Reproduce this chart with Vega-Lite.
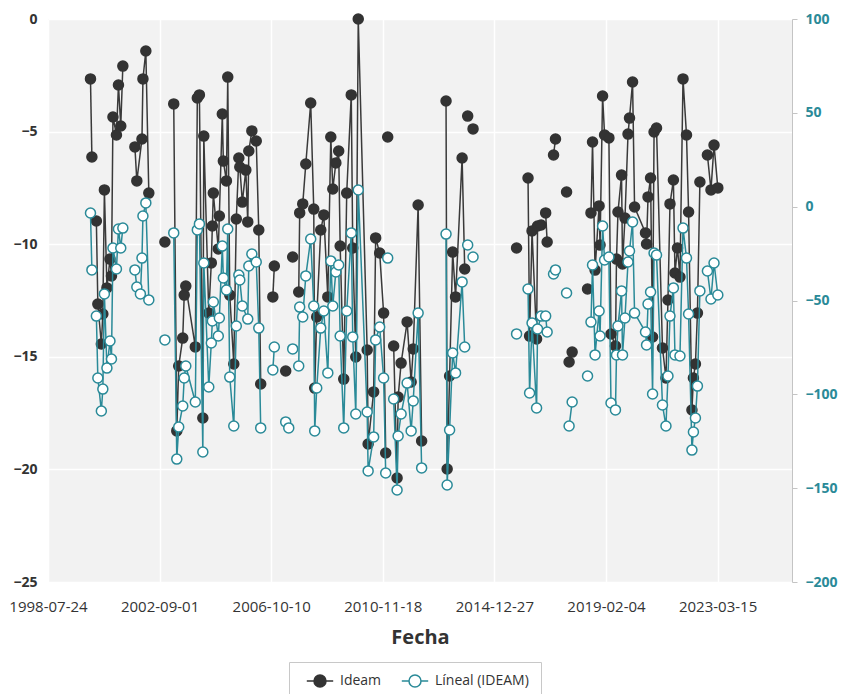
{
  "$schema": "https://vega.github.io/schema/vega-lite/v6.json",
  "width": 744,
  "height": 563,
  "autosize": {"type": "none"},
  "padding": {"left": 48, "top": 19, "right": 50, "bottom": 112},
  "background": "white",
  "config": {
    "font": "Open Sans",
    "view": {"fill": "#f2f2f2", "stroke": null},
    "axis": {"labelFont": "Open Sans", "titleFont": "Open Sans"},
    "legend": {
      "orient": "none", "legendX": 241, "legendY": 643, "direction": "horizontal", "title": null,
      "symbolType": "M-2.2,0L-1,0M1,0L2.2,0M-1,0A1,1,0,1,1,1,0A1,1,0,1,1,-1,0Z",
      "symbolSize": 144, "symbolStrokeWidth": 1.5, "symbolOffset": 12, "symbolOpacity": 1,
      "labelOffset": 13, "labelFontSize": 14, "labelColor": "#333333", "labelFont": "Open Sans",
      "columnPadding": 14, "padding": 12, "strokeColor": "#c8c8c8", "fillColor": "#ffffff"
    }
  },
  "data": {"values": [
    {"fecha": "2000-02-15", "ideam": -2.66, "lineal": -3.4, "tramo": 1},
    {"fecha": "2000-03-05", "ideam": -6.13, "lineal": -33.7, "tramo": 1},
    {"fecha": "2000-05-04", "ideam": -8.97, "lineal": -58.3, "tramo": 2},
    {"fecha": "2000-05-24", "ideam": -12.66, "lineal": -91.3, "tramo": 2},
    {"fecha": "2000-07-10", "ideam": -14.43, "lineal": -108.9, "tramo": 2},
    {"fecha": "2000-07-30", "ideam": -13.10, "lineal": -97.2, "tramo": 2},
    {"fecha": "2000-08-20", "ideam": -7.59, "lineal": -46.5, "tramo": 2},
    {"fecha": "2000-09-23", "ideam": -11.94, "lineal": -86.0, "tramo": 2},
    {"fecha": "2000-11-03", "ideam": -10.66, "lineal": -71.6, "tramo": 2},
    {"fecha": "2000-11-23", "ideam": -11.41, "lineal": -81.2, "tramo": 2},
    {"fecha": "2000-12-13", "ideam": -4.35, "lineal": -22.0, "tramo": 2},
    {"fecha": "2001-01-29", "ideam": -5.15, "lineal": -33.2, "tramo": 2},
    {"fecha": "2001-02-25", "ideam": -2.93, "lineal": -11.9, "tramo": 2},
    {"fecha": "2001-03-28", "ideam": -4.75, "lineal": -22.0, "tramo": 2},
    {"fecha": "2001-04-25", "ideam": -2.09, "lineal": -11.4, "tramo": 2},
    {"fecha": "2001-10-04", "ideam": -5.68, "lineal": -33.7, "tramo": 3},
    {"fecha": "2001-10-30", "ideam": -7.19, "lineal": -42.8, "tramo": 3},
    {"fecha": "2001-12-17", "ideam": null, "lineal": -46.5, "tramo": 3},
    {"fecha": "2002-01-07", "ideam": -5.33, "lineal": -27.4, "tramo": 3},
    {"fecha": "2002-01-20", "ideam": -2.66, "lineal": -5.0, "tramo": 3},
    {"fecha": "2002-02-28", "ideam": -1.42, "lineal": 2.0, "tramo": 3},
    {"fecha": "2002-04-09", "ideam": -7.73, "lineal": -49.7, "tramo": 3},
    {"fecha": "2002-11-11", "ideam": -9.90, "lineal": -71.0, "tramo": 4},
    {"fecha": "2003-03-10", "ideam": -3.77, "lineal": -14.0, "tramo": 5},
    {"fecha": "2003-04-20", "ideam": -18.29, "lineal": -134.5, "tramo": 5},
    {"fecha": "2003-05-16", "ideam": -15.41, "lineal": -117.4, "tramo": 5},
    {"fecha": "2003-07-09", "ideam": -14.17, "lineal": -106.2, "tramo": 5},
    {"fecha": "2003-07-29", "ideam": -12.26, "lineal": -91.3, "tramo": 5},
    {"fecha": "2003-08-19", "ideam": -11.86, "lineal": -84.9, "tramo": 5},
    {"fecha": "2003-12-25", "ideam": -14.56, "lineal": -104.1, "tramo": 5},
    {"fecha": "2004-01-21", "ideam": -3.51, "lineal": -12.4, "tramo": 5},
    {"fecha": "2004-02-18", "ideam": -3.37, "lineal": -9.2, "tramo": 5},
    {"fecha": "2004-04-04", "ideam": -17.72, "lineal": -130.7, "tramo": 5},
    {"fecha": "2004-04-17", "ideam": -5.20, "lineal": -30.0, "tramo": 5},
    {"fecha": "2004-06-23", "ideam": -13.06, "lineal": -96.1, "tramo": 5},
    {"fecha": "2004-07-27", "ideam": -10.83, "lineal": -72.6, "tramo": 5},
    {"fecha": "2004-08-10", "ideam": -9.19, "lineal": -60.9, "tramo": 5},
    {"fecha": "2004-08-23", "ideam": -7.73, "lineal": -50.8, "tramo": 5},
    {"fecha": "2004-10-29", "ideam": -10.21, "lineal": -68.9, "tramo": 5},
    {"fecha": "2004-11-12", "ideam": -8.75, "lineal": -59.3, "tramo": 5},
    {"fecha": "2004-12-22", "ideam": -4.22, "lineal": -21.0, "tramo": 5},
    {"fecha": "2005-01-05", "ideam": -6.31, "lineal": -38.0, "tramo": 5},
    {"fecha": "2005-02-15", "ideam": -7.19, "lineal": -44.4, "tramo": 5},
    {"fecha": "2005-03-05", "ideam": -2.58, "lineal": -11.9, "tramo": 5},
    {"fecha": "2005-04-01", "ideam": -12.26, "lineal": -90.8, "tramo": 5},
    {"fecha": "2005-05-25", "ideam": -15.32, "lineal": -116.9, "tramo": 5},
    {"fecha": "2005-06-28", "ideam": -8.88, "lineal": -63.6, "tramo": 5},
    {"fecha": "2005-08-01", "ideam": -6.17, "lineal": -36.4, "tramo": 5},
    {"fecha": "2005-08-14", "ideam": -6.57, "lineal": -39.1, "tramo": 5},
    {"fecha": "2005-09-17", "ideam": -8.13, "lineal": -52.9, "tramo": 5},
    {"fecha": "2005-11-03", "ideam": -6.71, "lineal": null, "tramo": 5},
    {"fecha": "2005-11-29", "ideam": -9.01, "lineal": -59.9, "tramo": 5},
    {"fecha": "2005-12-13", "ideam": -5.86, "lineal": -31.6, "tramo": 5},
    {"fecha": "2006-01-23", "ideam": -4.97, "lineal": -25.2, "tramo": 5},
    {"fecha": "2006-03-23", "ideam": -5.42, "lineal": -29.5, "tramo": 5},
    {"fecha": "2006-04-26", "ideam": -9.37, "lineal": -64.7, "tramo": 5},
    {"fecha": "2006-05-22", "ideam": -16.21, "lineal": -117.9, "tramo": 5},
    {"fecha": "2006-11-01", "ideam": -12.34, "lineal": -87.0, "tramo": 6},
    {"fecha": "2006-11-21", "ideam": -10.97, "lineal": -74.8, "tramo": 6},
    {"fecha": "2007-04-23", "ideam": -15.63, "lineal": -114.7, "tramo": 7},
    {"fecha": "2007-06-03", "ideam": null, "lineal": -117.9, "tramo": 7},
    {"fecha": "2007-07-26", "ideam": -10.57, "lineal": -75.8, "tramo": 8},
    {"fecha": "2007-10-15", "ideam": -12.12, "lineal": -84.9, "tramo": 9},
    {"fecha": "2007-10-28", "ideam": -8.61, "lineal": -53.5, "tramo": 9},
    {"fecha": "2007-12-08", "ideam": -8.21, "lineal": -58.8, "tramo": 9},
    {"fecha": "2008-01-18", "ideam": -6.44, "lineal": -36.9, "tramo": 9},
    {"fecha": "2008-03-24", "ideam": -3.73, "lineal": -17.2, "tramo": 9},
    {"fecha": "2008-05-04", "ideam": -8.44, "lineal": -52.9, "tramo": 9},
    {"fecha": "2008-05-17", "ideam": -16.39, "lineal": -119.5, "tramo": 9},
    {"fecha": "2008-06-13", "ideam": -13.23, "lineal": -96.6, "tramo": 9},
    {"fecha": "2008-08-06", "ideam": -9.37, "lineal": -64.7, "tramo": 9},
    {"fecha": "2008-09-16", "ideam": -8.70, "lineal": -55.6, "tramo": 9},
    {"fecha": "2008-11-09", "ideam": -12.34, "lineal": -88.6, "tramo": 9},
    {"fecha": "2008-12-19", "ideam": -5.24, "lineal": -28.9, "tramo": 9},
    {"fecha": "2009-01-15", "ideam": -7.55, "lineal": -52.9, "tramo": 9},
    {"fecha": "2009-02-25", "ideam": -6.39, "lineal": -34.8, "tramo": 9},
    {"fecha": "2009-04-04", "ideam": -5.86, "lineal": -31.1, "tramo": 9},
    {"fecha": "2009-04-24", "ideam": -10.08, "lineal": -68.9, "tramo": 9},
    {"fecha": "2009-06-11", "ideam": -15.99, "lineal": -117.9, "tramo": 9},
    {"fecha": "2009-07-21", "ideam": -7.73, "lineal": -55.6, "tramo": 9},
    {"fecha": "2009-09-20", "ideam": -3.37, "lineal": -14.0, "tramo": 9},
    {"fecha": "2009-10-10", "ideam": -10.17, "lineal": -69.4, "tramo": 9},
    {"fecha": "2009-11-20", "ideam": -15.01, "lineal": -110.5, "tramo": 9},
    {"fecha": "2009-12-23", "ideam": 0, "lineal": 8.9, "tramo": 9},
    {"fecha": "2010-04-22", "ideam": -14.70, "lineal": -109.4, "tramo": 9},
    {"fecha": "2010-05-05", "ideam": -18.87, "lineal": -140.8, "tramo": 9},
    {"fecha": "2010-07-18", "ideam": -16.56, "lineal": -122.7, "tramo": 9},
    {"fecha": "2010-08-14", "ideam": -9.72, "lineal": -71.0, "tramo": 9},
    {"fecha": "2010-10-07", "ideam": -10.39, "lineal": -64.1, "tramo": 9},
    {"fecha": "2010-11-29", "ideam": -13.06, "lineal": -91.3, "tramo": 9},
    {"fecha": "2010-12-27", "ideam": -19.27, "lineal": -141.9, "tramo": 9},
    {"fecha": "2011-01-23", "ideam": -5.24, "lineal": -27.4, "tramo": 10},
    {"fecha": "2011-04-13", "ideam": -14.52, "lineal": -102.5, "tramo": 11},
    {"fecha": "2011-05-29", "ideam": -20.38, "lineal": -151.0, "tramo": 11},
    {"fecha": "2011-06-12", "ideam": -16.79, "lineal": -122.2, "tramo": 11},
    {"fecha": "2011-07-22", "ideam": -15.28, "lineal": -110.5, "tramo": 11},
    {"fecha": "2011-10-11", "ideam": -13.45, "lineal": -94.0, "tramo": 11},
    {"fecha": "2011-12-04", "ideam": -16.12, "lineal": -119.5, "tramo": 11},
    {"fecha": "2012-01-01", "ideam": -14.65, "lineal": -103.5, "tramo": 11},
    {"fecha": "2012-03-07", "ideam": -8.26, "lineal": -56.7, "tramo": 11},
    {"fecha": "2012-04-23", "ideam": -18.74, "lineal": -139.2, "tramo": 11},
    {"fecha": "2013-03-17", "ideam": -3.64, "lineal": -14.6, "tramo": 12},
    {"fecha": "2013-04-01", "ideam": -19.98, "lineal": -148.3, "tramo": 12},
    {"fecha": "2013-05-04", "ideam": -15.85, "lineal": -119.0, "tramo": 12},
    {"fecha": "2013-06-14", "ideam": -10.35, "lineal": -78.0, "tramo": 12},
    {"fecha": "2013-07-23", "ideam": -12.34, "lineal": -88.6, "tramo": 12},
    {"fecha": "2013-10-19", "ideam": -6.17, "lineal": -40.1, "tramo": 12},
    {"fecha": "2013-11-23", "ideam": -11.10, "lineal": -74.8, "tramo": 12},
    {"fecha": "2014-01-02", "ideam": -4.31, "lineal": -20.4, "tramo": 13},
    {"fecha": "2014-03-15", "ideam": -4.88, "lineal": -26.8, "tramo": 14},
    {"fecha": "2015-10-21", "ideam": -10.17, "lineal": -67.8, "tramo": 15},
    {"fecha": "2016-03-23", "ideam": -7.06, "lineal": -43.9, "tramo": 16},
    {"fecha": "2016-04-13", "ideam": -14.08, "lineal": -99.3, "tramo": 16},
    {"fecha": "2016-05-16", "ideam": -9.41, "lineal": -62.0, "tramo": 16},
    {"fecha": "2016-07-16", "ideam": -14.21, "lineal": -107.3, "tramo": 16},
    {"fecha": "2016-07-29", "ideam": -9.19, "lineal": -65.2, "tramo": 16},
    {"fecha": "2016-09-15", "ideam": -9.15, "lineal": -58.3, "tramo": 16},
    {"fecha": "2016-11-15", "ideam": -8.61, "lineal": -58.3, "tramo": 17},
    {"fecha": "2016-12-05", "ideam": -9.90, "lineal": -66.8, "tramo": 17},
    {"fecha": "2017-03-01", "ideam": -6.04, "lineal": -35.9, "tramo": 18},
    {"fecha": "2017-03-27", "ideam": -5.33, "lineal": -33.7, "tramo": 18},
    {"fecha": "2017-08-23", "ideam": -7.68, "lineal": -46.0, "tramo": 19},
    {"fecha": "2017-09-26", "ideam": -15.23, "lineal": -116.9, "tramo": 20},
    {"fecha": "2017-11-06", "ideam": -14.79, "lineal": -104.1, "tramo": 20},
    {"fecha": "2018-06-01", "ideam": -11.99, "lineal": -90.2, "tramo": 21},
    {"fecha": "2018-07-17", "ideam": -8.61, "lineal": -61.5, "tramo": 22},
    {"fecha": "2018-08-07", "ideam": -5.46, "lineal": -31.1, "tramo": 22},
    {"fecha": "2018-09-10", "ideam": -11.15, "lineal": -79.0, "tramo": 22},
    {"fecha": "2018-11-03", "ideam": -8.30, "lineal": -55.6, "tramo": 22},
    {"fecha": "2018-11-16", "ideam": -10.04, "lineal": -68.9, "tramo": 22},
    {"fecha": "2018-12-20", "ideam": -3.42, "lineal": -10.3, "tramo": 22},
    {"fecha": "2019-01-16", "ideam": -5.15, "lineal": -28.4, "tramo": 22},
    {"fecha": "2019-03-15", "ideam": -5.28, "lineal": -26.8, "tramo": 22},
    {"fecha": "2019-04-12", "ideam": -13.99, "lineal": -104.6, "tramo": 22},
    {"fecha": "2019-06-11", "ideam": -14.52, "lineal": -108.3, "tramo": 22},
    {"fecha": "2019-06-25", "ideam": -10.66, "lineal": -79.0, "tramo": 22},
    {"fecha": "2019-07-15", "ideam": -8.57, "lineal": -63.6, "tramo": 22},
    {"fecha": "2019-09-01", "ideam": -6.93, "lineal": -44.9, "tramo": 22},
    {"fecha": "2019-09-14", "ideam": -10.88, "lineal": -79.0, "tramo": 22},
    {"fecha": "2019-10-17", "ideam": -8.84, "lineal": -59.3, "tramo": 22},
    {"fecha": "2019-11-27", "ideam": -5.11, "lineal": -29.5, "tramo": 22},
    {"fecha": "2019-12-17", "ideam": -4.40, "lineal": -23.6, "tramo": 22},
    {"fecha": "2020-01-27", "ideam": -2.80, "lineal": -8.2, "tramo": 22},
    {"fecha": "2020-02-23", "ideam": -8.35, "lineal": -56.7, "tramo": 22},
    {"fecha": "2020-07-19", "ideam": -9.50, "lineal": -66.8, "tramo": 22},
    {"fecha": "2020-08-02", "ideam": -9.99, "lineal": -73.7, "tramo": 22},
    {"fecha": "2020-08-22", "ideam": -7.90, "lineal": -51.9, "tramo": 22},
    {"fecha": "2020-09-25", "ideam": -7.06, "lineal": -45.5, "tramo": 22},
    {"fecha": "2020-10-22", "ideam": -14.12, "lineal": -99.8, "tramo": 22},
    {"fecha": "2020-11-11", "ideam": -5.02, "lineal": -24.7, "tramo": 22},
    {"fecha": "2020-12-14", "ideam": -4.84, "lineal": -25.8, "tramo": 22},
    {"fecha": "2021-03-04", "ideam": -14.61, "lineal": -105.7, "tramo": 22},
    {"fecha": "2021-04-20", "ideam": -15.94, "lineal": -116.9, "tramo": 22},
    {"fecha": "2021-05-17", "ideam": -12.48, "lineal": -90.2, "tramo": 22},
    {"fecha": "2021-06-13", "ideam": -8.21, "lineal": -58.3, "tramo": 22},
    {"fecha": "2021-07-29", "ideam": -7.15, "lineal": -43.3, "tramo": 22},
    {"fecha": "2021-08-19", "ideam": -11.28, "lineal": -79.0, "tramo": 22},
    {"fecha": "2021-09-22", "ideam": -10.17, "lineal": null, "tramo": 22},
    {"fecha": "2021-10-25", "ideam": -11.46, "lineal": -79.6, "tramo": 22},
    {"fecha": "2021-12-05", "ideam": -2.66, "lineal": -11.4, "tramo": 22},
    {"fecha": "2022-01-21", "ideam": -5.15, "lineal": -27.4, "tramo": 22},
    {"fecha": "2022-02-18", "ideam": -8.57, "lineal": -57.2, "tramo": 22},
    {"fecha": "2022-04-04", "ideam": -17.36, "lineal": -129.7, "tramo": 22},
    {"fecha": "2022-04-24", "ideam": -15.94, "lineal": -120.1, "tramo": 22},
    {"fecha": "2022-05-21", "ideam": -15.32, "lineal": -112.6, "tramo": 22},
    {"fecha": "2022-06-17", "ideam": -13.06, "lineal": -95.6, "tramo": 22},
    {"fecha": "2022-07-20", "ideam": -7.24, "lineal": -44.9, "tramo": 22},
    {"fecha": "2022-10-29", "ideam": -6.04, "lineal": -34.3, "tramo": 23},
    {"fecha": "2022-12-16", "ideam": -7.59, "lineal": -49.2, "tramo": 23},
    {"fecha": "2023-01-26", "ideam": -5.60, "lineal": -30.0, "tramo": 23},
    {"fecha": "2023-03-18", "ideam": -7.50, "lineal": -47.1, "tramo": 23}
  ]},
  "encoding": {
    "x": {
      "field": "fecha", "type": "temporal",
      "scale": {"type": "utc", "domain": [{"year": 1998, "month": 7, "date": 24, "utc": true}, {"year": 2025, "month": 12, "date": 9, "utc": true}]},
      "axis": {
        "values": [
          {"year": 1998, "month": 7, "date": 24, "utc": true},
          {"year": 2002, "month": 9, "date": 1, "utc": true},
          {"year": 2006, "month": 10, "date": 10, "utc": true},
          {"year": 2010, "month": 11, "date": 18, "utc": true},
          {"year": 2014, "month": 12, "date": 27, "utc": true},
          {"year": 2019, "month": 2, "date": 4, "utc": true},
          {"year": 2023, "month": 3, "date": 15, "utc": true}
        ],
        "format": "%Y-%m-%d",
        "labelFontSize": 15, "labelColor": "#333333", "labelFlush": false, "labelOverlap": false,
        "domain": false, "ticks": false, "labelPadding": 17,
        "grid": true, "gridColor": "#ffffff", "gridWidth": 1.5,
        "title": "Fecha", "titleFontSize": 20, "titleFontWeight": "bold", "titleColor": "#333333", "titlePadding": 13
      }
    }
  },
  "layer": [
    {
      "layer": [
        {
          "mark": {"type": "rule", "color": "#000000", "strokeWidth": 1.5},
          "encoding": {"y": {"datum": 0, "type": "quantitative"}}
        },
        {
          "mark": {"type": "line", "color": "#3a3a3a", "strokeWidth": 1.5, "invalid": "filter"},
          "encoding": {
            "y": {
              "field": "ideam", "type": "quantitative",
              "scale": {"domain": [-25, 0], "nice": false, "zero": false},
              "axis": {
                "orient": "left", "values": [0, -5, -10, -15, -20, -25], "title": null,
                "domain": false, "ticks": false, "labelFontSize": 14, "labelFontWeight": "bold",
                "labelColor": "#333333", "labelPadding": 11,
                "grid": true, "gridColor": "#ffffff", "gridWidth": 1.5
              }
            },
            "detail": {"field": "tramo", "type": "nominal"}
          }
        },
        {
          "mark": {"type": "point", "filled": true, "size": 100, "opacity": 1, "strokeWidth": 1.5},
          "encoding": {
            "y": {"field": "ideam", "type": "quantitative"},
            "fill": {
              "datum": "Ideam",
              "scale": {"domain": ["Ideam", "Líneal (IDEAM)"], "range": ["#333333", "#ffffff"]}
            },
            "stroke": {
              "datum": "Ideam",
              "scale": {"domain": ["Ideam", "Líneal (IDEAM)"], "range": ["#333333", "#2a8a98"]}
            }
          }
        }
      ]
    },
    {
      "layer": [
        {
          "mark": {"type": "line", "color": "#2a8a98", "strokeWidth": 1.5, "invalid": "filter"},
          "encoding": {
            "y": {
              "field": "lineal", "type": "quantitative",
              "scale": {"domain": [-200, 100], "nice": false, "zero": false},
              "axis": {
                "orient": "right", "values": [100, 50, 0, -50, -100, -150, -200], "title": null,
                "grid": false, "domain": true, "domainColor": "#c4c4c4", "ticks": true,
                "tickColor": "#c4c4c4", "tickSize": 5, "labelFontSize": 14, "labelFontWeight": "bold",
                "labelColor": "#2a8a98", "labelPadding": 8
              }
            },
            "detail": {"field": "tramo", "type": "nominal"}
          }
        },
        {
          "mark": {"type": "point", "filled": true, "size": 100, "strokeWidth": 1.5, "opacity": 1},
          "encoding": {
            "y": {"field": "lineal", "type": "quantitative"},
            "fill": {"datum": "Líneal (IDEAM)"},
            "stroke": {"datum": "Líneal (IDEAM)"}
          }
        }
      ]
    }
  ],
  "resolve": {"scale": {"y": "independent"}}
}
